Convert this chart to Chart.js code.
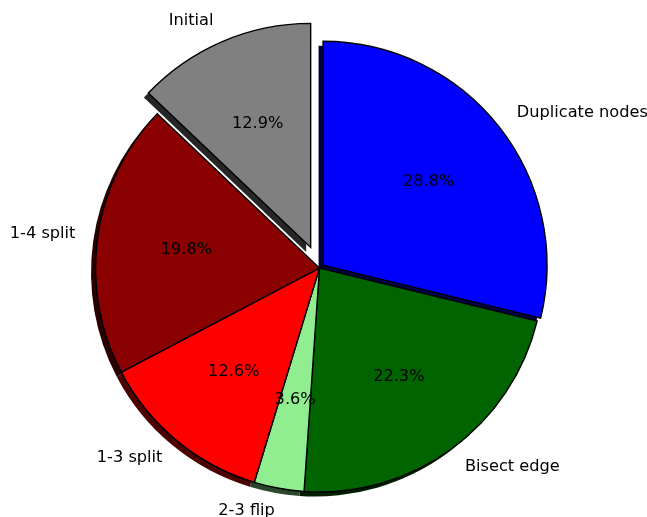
<!DOCTYPE html>
<html>
<head>
<meta charset="utf-8">
<script src="https://cdn.jsdelivr.net/npm/chart.js@4.4.1/dist/chart.umd.min.js"></script>
<style>
  html, body { margin: 0; padding: 0; background: #ffffff; }
  #wrap { width: 647px; height: 517px; }
  canvas { display: block; }
</style>
</head>
<body>
<div id="wrap"><canvas id="pieChart" width="647" height="517"></canvas></div>
<script>
// Slices listed clockwise from 12 o'clock
const labels = ['Duplicate nodes', 'Bisect edge', '2-3 flip', '1-3 split', '1-4 split', 'Initial'];
const shares = [28.8, 22.3, 3.6, 12.6, 19.8, 12.9];
const colors = ['#0000ff', '#006400', '#90ee90', '#ff0000', '#8b0000', '#808080'];
const explode = [0.02, 0, 0, 0, 0, 0.1];

const FONT = '16.2px "DejaVu Sans", sans-serif';

function darken(hex, k) {
    const n = parseInt(hex.slice(1), 16);
    const r = Math.round(((n >> 16) & 255) * k);
    const g = Math.round(((n >> 8) & 255) * k);
    const b = Math.round((n & 255) * k);
    return `rgb(${r},${g},${b})`;
}

// push the exploded wedges away from the centre
const explodePlugin = {
    id: 'explode',
    afterDatasetUpdate(chart, args) {
        const meta = chart.getDatasetMeta(args.index);
        meta.data.forEach((arc, i) => {
            const d = explode[i] * arc.outerRadius;
            const mid = (arc.startAngle + arc.endAngle) / 2;
            arc.x += Math.cos(mid) * d;
            arc.y += Math.sin(mid) * d;
        });
    }
};

// dark copies of every wedge, shifted left and down, drawn underneath
const shadowPlugin = {
    id: 'wedgeShadow',
    beforeDatasetsDraw(chart) {
        const ctx = chart.ctx;
        const meta = chart.getDatasetMeta(0);
        ctx.save();
        meta.data.forEach((arc, i) => {
            const s = 0.02 * arc.outerRadius;
            ctx.beginPath();
            ctx.moveTo(arc.x - s, arc.y + s);
            ctx.arc(arc.x - s, arc.y + s, arc.outerRadius, arc.startAngle, arc.endAngle);
            ctx.closePath();
            ctx.fillStyle = darken(colors[i], 0.3);
            ctx.fill();
        });
        ctx.restore();
    }
};

// category names outside, percentages inside
const textPlugin = {
    id: 'wedgeText',
    afterDatasetsDraw(chart) {
        const ctx = chart.ctx;
        const meta = chart.getDatasetMeta(0);
        const total = shares.reduce((a, b) => a + b, 0);
        ctx.save();
        ctx.font = FONT;
        ctx.fillStyle = '#000000';
        ctx.textBaseline = 'middle';
        meta.data.forEach((arc, i) => {
            const mid = (arc.startAngle + arc.endAngle) / 2;
            const r = arc.outerRadius;
            const lx = arc.x + Math.cos(mid) * r * 1.1;
            const ly = arc.y + Math.sin(mid) * r * 1.1;
            ctx.textAlign = Math.cos(mid) > 0 ? 'left' : 'right';
            ctx.fillText(labels[i], lx, ly);

            const px = arc.x + Math.cos(mid) * r * 0.6;
            const py = arc.y + Math.sin(mid) * r * 0.6;
            ctx.textAlign = 'center';
            ctx.fillText((shares[i] / total * 100).toFixed(1) + '%', px, py);
        });
        ctx.restore();
    }
};

new Chart(document.getElementById('pieChart'), {
    type: 'pie',
    data: {
        labels: labels,
        datasets: [{
            data: shares,
            backgroundColor: colors,
            borderColor: '#000000',
            borderWidth: 1.4,
            borderJoinStyle: 'miter'
        }]
    },
    options: {
        responsive: false,
        animation: false,
        radius: 224,
        layout: { padding: { left: 0, right: 8, top: 19, bottom: 0 } },
        plugins: {
            legend: { display: false },
            tooltip: { enabled: false }
        },
        events: []
    },
    plugins: [explodePlugin, shadowPlugin, textPlugin]
});
</script>
</body>
</html>
